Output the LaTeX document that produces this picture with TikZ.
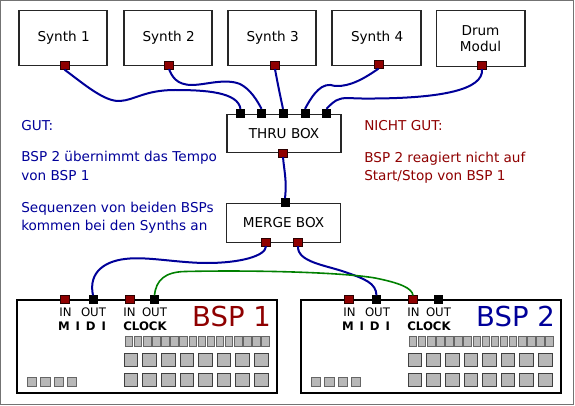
\documentclass[tikz,border=0pt]{standalone}
\usepackage{fontspec}
\setmainfont{DejaVu Sans}
\definecolor{cblue}{HTML}{000099}
\definecolor{cred}{HTML}{8F0000}
\definecolor{cgreen}{HTML}{008000}
\definecolor{cgray}{HTML}{B8B8B8}
\tikzset{
  box/.style={draw=black!85,line width=0.9pt,fill=white,inner sep=0pt,font=\fontsize{10.2}{12.5}\selectfont},
  redport/.style={draw=black!70!cred,line width=0.4pt,fill=cred,minimum width=6.4pt,minimum height=5.8pt,inner sep=0pt},
  blackport/.style={draw=black,fill=black,line width=0.4pt,minimum width=6.2pt,minimum height=5.8pt,inner sep=0pt},
  bluewire/.style={cblue,line width=1.5pt},
  greenwire/.style={cgreen,line width=1.2pt},
  gut/.style={cblue,anchor=west,inner sep=0pt,font=\fontsize{10.2}{12}\selectfont},
  nichtgut/.style={cred,anchor=west,inner sep=0pt,font=\fontsize{10.2}{12}\selectfont},
  lab/.style={inner sep=0pt,font=\fontsize{8.8}{10}\selectfont},
  blab/.style={inner sep=0pt,font=\bfseries\fontsize{8.8}{10}\selectfont},
  device/.style={draw=black,line width=1.6pt,fill=white,inner sep=0pt},
  title/.style={inner sep=0pt,font=\fontsize{20.6}{24}\selectfont},
  sq/.style={draw=black!60,line width=0.6pt,fill=cgray,inner sep=0pt},
}
\begin{document}
\begin{tikzpicture}[x=0.75pt,y=-0.75pt]
\useasboundingbox (0,0) rectangle (575,406);
\draw[black!55,line width=0.9pt] (0.5,0.5) rectangle (573.5,404.5);
% boxes
\foreach \n/\xa/\xb/\t in {s1/19/107/Synth 1,s2/124/212/Synth 2,s3/228/316/Synth 3,s4/332/421/Synth 4}
  \node[box,minimum width={(\xb-\xa)*0.75pt},minimum height=41.5pt] (\n) at ({(\xa+\xb)/2},38.2) {\hspace{1pt}\raisebox{-1.6pt}{\t}};
\node[box,align=center,minimum width=66.6pt,minimum height=41.5pt] (s5) at (480.5,38.5) {Drum\\Modul};
\node[box,minimum width=85.5pt,minimum height=29pt] (thru) at (284,133.5) {\raisebox{-1.4pt}{THRU BOX}\hspace{4pt}};
\node[box,minimum width=85pt,minimum height=28.8pt] (merge) at (283.5,223) {\raisebox{-0.6pt}{MERGE BOX}\hspace{1.5pt}};
\node[device,minimum width=195pt,minimum height=69.5pt] (bsp1) at (147,346.5) {};
\node[device,minimum width=195pt,minimum height=69.5pt] (bsp2) at (431,346.5) {};
% ports
\node[redport] (ps1) at (64.5,65.5) {};
\node[redport] (ps2) at (169,65) {};
\node[redport] (ps3) at (275,65) {};
\node[redport] (ps4) at (378.5,64.5) {};
\node[redport] (ps5) at (482,65) {};
\node[blackport] (t1) at (240.5,113) {};
\node[blackport] (t2) at (261.5,113) {};
\node[blackport] (t3) at (283,113) {};
\node[blackport] (t4) at (305,113) {};
\node[blackport] (t5) at (326.5,113) {};
\node[redport] (tout) at (283,153) {};
\node[blackport] (min) at (285,202.5) {};
\node[redport] (m1) at (266,242) {};
\node[redport] (m2) at (298,242) {};
\node[redport] (a1) at (65,299.5) {};
\node[blackport] (a2) at (93,299.5) {};
\node[redport] (a3) at (129.5,299.5) {};
\node[blackport] (a4) at (154.5,299.5) {};
\node[redport] (b1) at (349,299.5) {};
\node[blackport] (b2) at (376.5,299.5) {};
\node[redport] (b3) at (413,299.5) {};
\node[blackport] (b4) at (438.5,299.5) {};
% wires
\draw[bluewire] (ps1.south) .. controls (85,85) and (105,102) .. (120,101) .. controls (135,100) and (145,90) .. (175,90) .. controls (205,90) and (238,92) .. (t1.north);
\draw[bluewire] (ps2.south) .. controls (172,76) and (176,85) .. (192,85) .. controls (205,85) and (225,78) .. (240,84) .. controls (250,89) and (257,100) .. (t2.north);
\draw[bluewire] (ps3.south) .. controls (277,80) and (280,95) .. (t3.north);
\draw[bluewire] (ps4.south) .. controls (365,78) and (350,87) .. (335,86) .. controls (322,81) and (313,94) .. (t4.north);
\draw[bluewire] (ps5.south) .. controls (484,90) and (440,98) .. (375,98.5) .. controls (355,99) and (345,97) .. (340,99) .. controls (335,100) and (330,105) .. (t5.north);
\draw[bluewire] (tout.south) .. controls (284,170) and (287,180) .. (min.north);
\draw[bluewire] (m1.south) .. controls (266,256) and (240,263) .. (207,263) .. controls (180,263) and (150,257) .. (130,258.5) .. controls (105,260) and (88,272) .. (a2.north);
\draw[bluewire] (m2.south) .. controls (297,262) and (325,265) .. (345,272) .. controls (365,279) and (376,283) .. (b2.north);
\draw[greenwire] (a4.north) .. controls (156,280) and (165,272) .. (185,271.5) .. controls (250,270) and (340,272) .. (375,278) .. controls (400,283) and (412,288) .. (b3.north);
% texts
\node[gut] (g1) at (21,126) {GUT:};
\node[gut] (g2) at (21,158) {BSP 2 übernimmt das Tempo};
\node[gut] (g3) at (21,176) {von BSP 1};
\node[gut] (g4) at (21,209) {Sequenzen von beiden BSPs};
\node[gut] (g5) at (21,227) {kommen bei den Synths an};
\node[nichtgut] (n1) at (364,126) {NICHT GUT:};
\node[nichtgut] (n2) at (364,159) {BSP 2 reagiert nicht auf};
\node[nichtgut] (n3) at (364,177) {Start/Stop von BSP 1};
% device labels
\foreach \p/\dx/\col/\nm in {A/0/cred/BSP 1,B/284/cblue/BSP 2}{
  \begin{scope}[xshift=\dx*0.75pt]
  \node[lab] (\p i1) at (65.5,312) {IN};
  \node[lab] (\p o1) at (93.5,312) {OUT};
  \node[lab] (\p i2) at (129.5,312) {IN};
  \node[lab] (\p o2) at (154.5,312) {OUT};
  \node[blab] (\p m) at (82,326.5) {M\hspace{0.5em}I\hspace{0.5em}D\hspace{0.5em}I};
  \node[blab] (\p c) at (145,326.5) {CLOCK};
  \node[title,text=\col] (\p t) at (231.5,317) {\nm};
  \foreach \i in {0,...,15}
    \node[sq,minimum width=5.6pt,minimum height=7pt] (\p r\i) at ({129+\i*9.1},341.5) {};
  \foreach \i in {0,...,7}{
    \node[sq,draw=black!75,minimum width=10.2pt,minimum height=10.2pt] (\p u\i) at ({131+\i*18.6},360) {};
    \node[sq,draw=black!75,minimum width=10.2pt,minimum height=10.2pt] (\p v\i) at ({131+\i*18.6},380) {};
  }
  \foreach \i in {0,...,3}
    \node[sq,minimum width=7pt,minimum height=6.8pt] (\p s\i) at ({32+\i*13.4},382) {};
  \end{scope}
}
\end{tikzpicture}
\end{document}
